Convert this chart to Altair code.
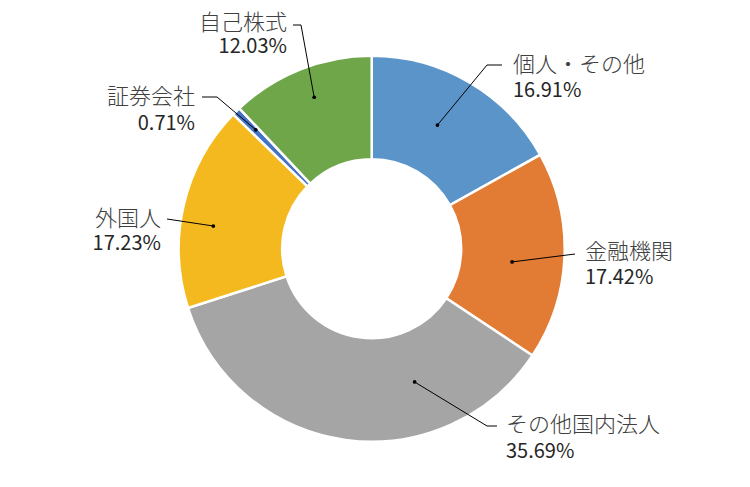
import math
import altair as alt
import pandas as pd

# ---- data ----
categories = ["個人・その他", "金融機関", "その他国内法人", "外国人", "証券会社", "自己株式"]
values = [16.91, 17.42, 35.69, 17.23, 0.71, 12.03]
colors = ["#5B94C9", "#E27B34", "#A5A5A5", "#F3B91E", "#4472C4", "#6EA649"]

# ---- layout (chart coordinates, page minus 8px margin) ----
W, H = 734, 471
CX, CY = 363.7, 240.7
R_OUT, R_IN = 193, 89.5
anchor_frac = [0.46, 0.55, 0.30, 0.42, 0.62, 0.52]
anchor_r = [140, 141, 140, 160, 166, 162]
# leader line bend/end points (page px) and label anchors
leader_pts = [
    [(487, 65), (502, 65)],
    [(575, 254)],
    [(487, 426), (497, 426)],
    [(167, 219)],
    [(217, 97), (202, 97)],
    [(301, 25), (293, 25)],
]
label_x = [513, 585, 506, 161, 195, 287]
label_y1 = [65, 252, 425, 219, 97, 23]
label_y2 = [91, 278, 452, 244, 124, 47]
label_align = ["left", "left", "left", "right", "right", "right"]

total = sum(values)
pie = pd.DataFrame({"cat": categories, "val": values, "idx": range(len(values))})

arc = alt.Chart(pie).mark_arc(
    innerRadius=R_IN, outerRadius=R_OUT, stroke="white", strokeWidth=2.5
).encode(
    theta=alt.Theta("val:Q", stack=True),
    color=alt.Color("cat:N", scale=alt.Scale(domain=categories, range=colors), legend=None),
    order=alt.Order("idx:Q"),
    x=alt.value(CX),
    y=alt.value(CY),
)

# dots and leader lines derived from slice angles
dots, lines, labels = [], [], []
cum = 0.0
for i, v in enumerate(values):
    a0 = cum / total * 2 * math.pi
    a1 = (cum + v) / total * 2 * math.pi
    cum += v
    a = a0 + (a1 - a0) * anchor_frac[i]
    dx = CX + anchor_r[i] * math.sin(a)
    dy = CY - anchor_r[i] * math.cos(a)
    dots.append({"x": dx, "y": dy, "cat": categories[i]})
    lines.append({"x": dx, "y": dy, "cat": categories[i], "k": 0})
    for j, (px, py) in enumerate(leader_pts[i]):
        lines.append({"x": px - 8, "y": py - 8, "cat": categories[i], "k": j + 1})
    labels.append({
        "x": label_x[i] - 8, "y1": label_y1[i] - 8, "y2": label_y2[i] - 8,
        "name": categories[i], "pct": f"{values[i]:.2f}%", "align": label_align[i],
    })

xs = alt.Scale(domain=[0, W], range=[0, W])
ys = alt.Scale(domain=[0, H], range=[0, H])

line_layer = alt.Chart(pd.DataFrame(lines)).mark_line(color="#000000", strokeWidth=1).encode(
    x=alt.X("x:Q", scale=xs, axis=None),
    y=alt.Y("y:Q", scale=ys, axis=None),
    detail="cat:N",
    order="k:Q",
)
dot_layer = alt.Chart(pd.DataFrame(dots)).mark_circle(color="#000000", size=14, opacity=1).encode(
    x=alt.X("x:Q", scale=xs, axis=None),
    y=alt.Y("y:Q", scale=ys, axis=None),
)

lab = pd.DataFrame(labels)
text_layers = []
for al in ["left", "right"]:
    sub = lab[lab["align"] == al]
    base = alt.Chart(sub)
    t1 = base.mark_text(align=al, baseline="middle", font="Noto Sans CJK JP", fontSize=22,
                        fontWeight=300, color="#404040").encode(
        x=alt.X("x:Q", scale=xs, axis=None),
        y=alt.Y("y1:Q", scale=ys, axis=None),
        text="name:N",
    )
    t2 = base.mark_text(align=al, baseline="middle", font="Noto Sans CJK JP", fontSize=20,
                        color="#262626").encode(
        x=alt.X("x:Q", scale=xs, axis=None),
        y=alt.Y("y2:Q", scale=ys, axis=None),
        text="pct:N",
    )
    text_layers += [t1, t2]

chart = alt.layer(arc, line_layer, dot_layer, *text_layers).properties(
    width=W, height=H, padding=0
).configure_view(stroke=None)

chart.save("out.html", embed_options={"renderer": "svg", "actions": False})
